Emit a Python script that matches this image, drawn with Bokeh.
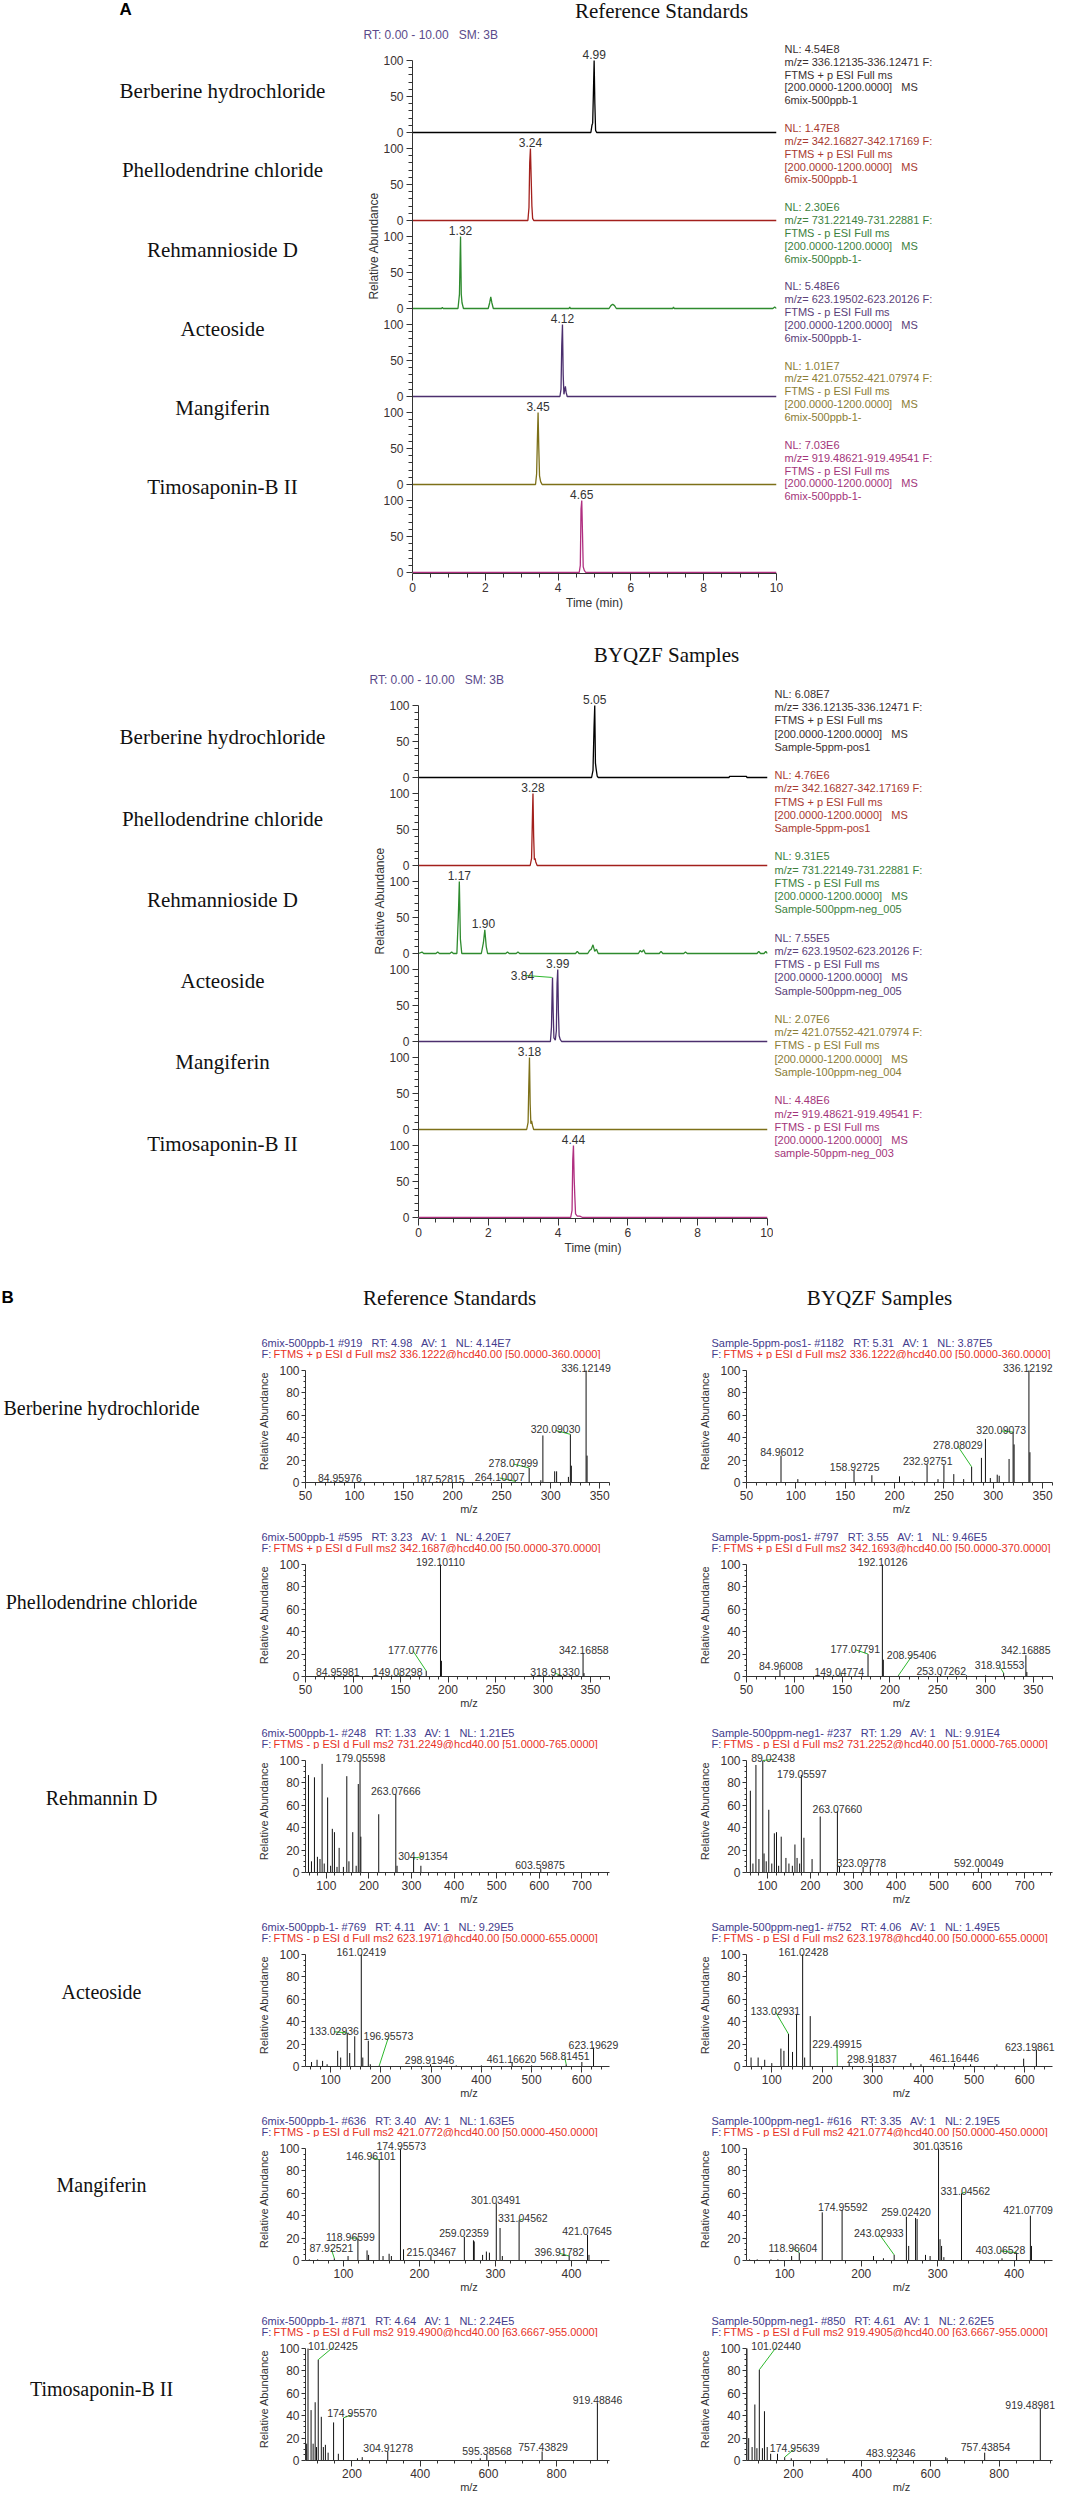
import math
from bokeh.plotting import figure
from bokeh.models import Range1d, FixedTicker, Label
from bokeh.layouts import column, row
from bokeh.embed import file_html
from bokeh.resources import INLINE

SERIF = "Liberation Serif"
SANS = "Liberation Sans"
NB = "\u00a0"

# ------------------------------------------------------------------ Panel A data
A_NAMES = ["Berberine hydrochloride", "Phellodendrine chloride", "Rehmannioside D",
           "Acteoside", "Mangiferin", "Timosaponin-B II"]
A_MZ_WINDOWS = ["336.12135-336.12471", "342.16827-342.17169", "731.22149-731.22881",
                "623.19502-623.20126", "421.07552-421.07974", "919.48621-919.49541"]
A_POLARITY = ["+", "+", "-", "-", "-", "-"]
A_REF_NL = ["4.54E8", "1.47E8", "2.30E6", "5.48E6", "1.01E7", "7.03E6"]
A_SMP_NL = ["6.08E7", "4.76E6", "9.31E5", "7.55E5", "2.07E6", "4.48E6"]
A_REF_FILE = ["6mix-500ppb-1", "6mix-500ppb-1", "6mix-500ppb-1-", "6mix-500ppb-1-",
              "6mix-500ppb-1-", "6mix-500ppb-1-"]
A_SMP_FILE = ["Sample-5ppm-pos1", "Sample-5ppm-pos1", "Sample-500ppm-neg_005",
              "Sample-500ppm-neg_005", "Sample-100ppm-neg_004", "sample-50ppm-neg_003"]

A_REF_BERB_T = [0, 4.90, 4.93, 4.95, 4.97, 4.99, 5.01, 5.03, 5.06, 10]
A_REF_BERB_V = [0, 0, 10, 13, 55, 100, 40, 3, 0, 0]
A_REF_PHEL_T = [0, 3.17, 3.20, 3.22, 3.24, 3.26, 3.28, 3.30, 3.33, 10]
A_REF_PHEL_V = [0, 0, 18, 80, 100, 60, 20, 3, 0, 0]
A_REF_REHM_T = [0, 0.80, 0.82, 0.84, 1.25, 1.29, 1.31, 1.32, 1.34, 1.36, 1.40,
                2.08, 2.12, 2.15, 2.18, 2.22, 4.30, 4.32, 4.34, 5.40, 5.45, 5.50, 5.55, 5.60,
                7.15, 7.17, 7.19, 9.90, 9.95, 10]
A_REF_REHM_V = [0, 0, 1.5, 0, 0, 20, 75, 100, 20, 8, 0,
                0, 8, 16, 8, 0, 0, 2, 0, 0, 4, 6, 4, 0,
                0, 2, 0, 0, 2, 0]
A_REF_ACTE_T = [0, 4.05, 4.08, 4.10, 4.12, 4.14, 4.16, 4.18, 4.20, 4.22, 4.25, 10]
A_REF_ACTE_V = [0, 0, 10, 70, 100, 30, 3, 9, 14, 6, 0, 0]
A_REF_MANG_T = [0, 3.38, 3.41, 3.43, 3.45, 3.47, 3.49, 3.52, 3.56, 10]
A_REF_MANG_V = [0, 0, 15, 60, 100, 50, 12, 4, 0, 0]
A_REF_TIMO_T = [0, 4.58, 4.61, 4.63, 4.65, 4.67, 4.69, 4.72, 4.76, 10]
A_REF_TIMO_V = [0, 0, 10, 88, 100, 55, 8, 3, 0, 0]

A_SMP_BERB_T = [0, 4.96, 5.00, 5.03, 5.05, 5.07, 5.09, 5.12, 5.15, 8.90, 8.91, 9.40, 9.41, 10]
A_SMP_BERB_V = [0, 0, 10, 70, 100, 20, 12, 2, 0, 0, 1.5, 1.5, 0, 0]
A_SMP_PHEL_T = [0, 3.20, 3.24, 3.27, 3.28, 3.30, 3.32, 3.34, 3.36, 3.40, 10]
A_SMP_PHEL_V = [0, 0, 10, 80, 100, 40, 8, 10, 5, 0, 0]
A_SMP_REHM_T = [0, 0.10, 0.15, 0.20, 0.50, 0.55, 0.60, 0.90, 0.95, 1.00,
                1.10, 1.14, 1.17, 1.20, 1.24, 1.80, 1.86, 1.90, 1.94, 1.98,
                2.50, 2.55, 2.60, 2.80, 2.85, 2.90, 4.50, 4.55, 4.60,
                4.85, 4.90, 4.95, 5.00, 5.05, 5.10, 5.15, 6.30, 6.35, 6.40, 6.45, 6.50,
                6.90, 6.95, 7.00, 7.60, 7.65, 7.70, 9.70, 9.75, 9.80, 9.90, 9.95, 10]
A_SMP_REHM_V = [0, 2, 0, 0, 0, 2, 0, 0, 2, 0,
                0, 50, 100, 20, 0, 0, 15, 33, 10, 0,
                0, 2, 0, 0, 2, 0, 0, 3, 0,
                0, 4, 6, 12, 3, 6, 0, 0, 4, 2, 5, 0,
                0, 3, 0, 0, 2, 0, 0, 3, 0, 0, 3, 0]
A_SMP_ACTE_T = [0, 3.78, 3.81, 3.83, 3.84, 3.86, 3.88, 3.92, 3.95, 3.97, 3.99, 4.01, 4.03, 4.06, 4.10, 10]
A_SMP_ACTE_V = [0, 0, 20, 70, 89, 40, 5, 2, 15, 80, 100, 40, 8, 3, 0, 0]
A_SMP_MANG_T = [0, 3.10, 3.14, 3.16, 3.18, 3.20, 3.22, 3.24, 3.27, 3.30, 10]
A_SMP_MANG_V = [0, 0, 10, 60, 100, 35, 8, 12, 5, 0, 0]
A_SMP_TIMO_T = [0, 4.36, 4.40, 4.42, 4.44, 4.46, 4.48, 4.50, 4.55, 4.62, 4.66, 4.70, 10]
A_SMP_TIMO_V = [0, 0, 10, 80, 100, 55, 28, 5, 2, 2, 1, 0, 0]

# retention-time labels: value, row, label x (min), label level (%)
A_REF_LAB_RT = [4.99, 3.24, 1.32, 4.12, 3.45, 4.65]
A_REF_LAB_ROW = [0, 1, 2, 3, 4, 5]
A_REF_LAB_T = [4.99, 3.24, 1.32, 4.12, 3.45, 4.65]
A_REF_LAB_V = [100, 100, 100, 100, 100, 100]
A_SMP_LAB_RT = [5.05, 3.28, 1.17, 1.90, 3.84, 3.99, 3.18, 4.44]
A_SMP_LAB_ROW = [0, 1, 2, 2, 3, 3, 4, 5]
A_SMP_LAB_T = [5.05, 3.28, 1.17, 1.86, 2.98, 3.99, 3.18, 4.44]
A_SMP_LAB_V = [100, 100, 100, 33, 83, 100, 100, 100]
A_SMP_LAB_LEADER = [0, 0, 0, 0, 1, 0, 0, 0]

TRACE_COLORS = ["#000000", "#a3201c", "#2e8b2e", "#4b2f6e", "#7d7018", "#b02f80"]
NL_COLORS = ["#3b2f2f", "#a83a30", "#3d7f3d", "#5a4078", "#8b7d35", "#a3357a"]

# ------------------------------------------------------------------ Panel B data
B_NAMES = ["Berberine hydrochloride", "Phellodendrine chloride", "Rehmannin D",
           "Acteoside", "Mangiferin", "Timosaponin-B II"]
B_REF_HEAD1 = ["6mix-500ppb-1 #919  RT: 4.98  AV: 1  NL: 4.14E7",
               "6mix-500ppb-1 #595  RT: 3.23  AV: 1  NL: 4.20E7",
               "6mix-500ppb-1- #248  RT: 1.33  AV: 1  NL: 1.21E5",
               "6mix-500ppb-1- #769  RT: 4.11  AV: 1  NL: 9.29E5",
               "6mix-500ppb-1- #636  RT: 3.40  AV: 1  NL: 1.63E5",
               "6mix-500ppb-1- #871  RT: 4.64  AV: 1  NL: 2.24E5"]
B_REF_HEAD2 = ["FTMS + p ESI d Full ms2 336.1222@hcd40.00 [50.0000-360.0000]",
               "FTMS + p ESI d Full ms2 342.1687@hcd40.00 [50.0000-370.0000]",
               "FTMS - p ESI d Full ms2 731.2249@hcd40.00 [51.0000-765.0000]",
               "FTMS - p ESI d Full ms2 623.1971@hcd40.00 [50.0000-655.0000]",
               "FTMS - p ESI d Full ms2 421.0772@hcd40.00 [50.0000-450.0000]",
               "FTMS - p ESI d Full ms2 919.4900@hcd40.00 [63.6667-955.0000]"]
B_SMP_HEAD1 = ["Sample-5ppm-pos1- #1182  RT: 5.31  AV: 1  NL: 3.87E5",
               "Sample-5ppm-pos1- #797  RT: 3.55  AV: 1  NL: 9.46E5",
               "Sample-500ppm-neg1- #237  RT: 1.29  AV: 1  NL: 9.91E4",
               "Sample-500ppm-neg1- #752  RT: 4.06  AV: 1  NL: 1.49E5",
               "Sample-100ppm-neg1- #616  RT: 3.35  AV: 1  NL: 2.19E5",
               "Sample-50ppm-neg1- #850  RT: 4.61  AV: 1  NL: 2.62E5"]
B_SMP_HEAD2 = ["FTMS + p ESI d Full ms2 336.1222@hcd40.00 [50.0000-360.0000]",
               "FTMS + p ESI d Full ms2 342.1693@hcd40.00 [50.0000-370.0000]",
               "FTMS - p ESI d Full ms2 731.2252@hcd40.00 [51.0000-765.0000]",
               "FTMS - p ESI d Full ms2 623.1978@hcd40.00 [50.0000-655.0000]",
               "FTMS - p ESI d Full ms2 421.0774@hcd40.00 [50.0000-450.0000]",
               "FTMS - p ESI d Full ms2 919.4905@hcd40.00 [63.6667-955.0000]"]
B_XRANGE = [(50, 360), (50, 370), (51, 765), (50, 655), (50, 450), (63.6667, 955)]
B_MAJOR = [[50, 100, 150, 200, 250, 300, 350], [50, 100, 150, 200, 250, 300, 350],
           [100, 200, 300, 400, 500, 600, 700], [100, 200, 300, 400, 500, 600],
           [100, 200, 300, 400], [200, 400, 600, 800]]
B_MINOR_STEP = [10, 10, 20, 20, 20, 50]

B1_REF_MZ = [84.96, 187.53, 264.10, 278.08, 290.0, 292.07, 304.1, 306.08, 318.1, 320.09, 321.1, 336.12, 337.13]
B1_REF_INT = [1, 0.6, 1, 13, 2, 42, 10, 10, 5, 43, 15, 100, 24]
B1_REF_LAB = ["336.12149", "320.09030", "278.07999", "264.10007", "187.52815", "84.95976"]
B1_REF_LX = [336, 305, 262, 248, 187, 85]
B1_REF_LY = [102, 47.5, 17.5, 5, 3.5, 4]
B1_REF_LEAD = [0, 1, 1, 1, 0, 0]
B1_SMP_MZ = [84.96, 102.0, 130.0, 158.93, 177.0, 205.0, 218.0, 232.93, 244.0, 250.0, 260.0, 270.0,
             278.08, 288.0, 292.07, 297.0, 304.0, 306.0, 316.0, 320.09, 321.1, 336.12, 337.13]
B1_SMP_INT = [24, 3, 1, 10.5, 6.5, 5.5, 1, 16, 3, 15.5, 7.5, 3, 14, 22, 39, 4, 7, 6, 21, 45, 34, 100, 27]
B1_SMP_LAB = ["336.12192", "320.09073", "278.08029", "232.92751", "158.92725", "84.96012"]
B1_SMP_LX = [335, 308, 264, 233.6, 159.6, 86]
B1_SMP_LY = [102, 47, 33.5, 19, 14, 27]
B1_SMP_LEAD = [0, 1, 1, 0, 0, 0]

B2_REF_MZ = [84.96, 149.08, 177.08, 192.10, 193.1, 318.91, 342.17, 343.17]
B2_REF_INT = [1, 1, 5, 100, 14, 1, 21, 3]
B2_REF_LAB = ["192.10110", "177.07776", "149.08298", "84.95981", "318.91330", "342.16858"]
B2_REF_LX = [192, 163, 147, 84, 312.6, 343]
B2_REF_LY = [102, 24, 4, 4, 4, 24]
B2_REF_LEAD = [0, 1, 1, 0, 1, 0]
B2_SMP_MZ = [84.96, 149.05, 177.08, 192.10, 193.1, 208.95, 253.07, 280.0, 300.0, 318.92, 342.17, 343.17]
B2_SMP_INT = [6, 2, 20, 100, 15, 1, 2, 1, 1, 3, 19, 4]
B2_SMP_LAB = ["192.10126", "177.07791", "208.95406", "84.96008", "149.04774", "253.07262",
              "318.91553", "342.16885"]
B2_SMP_LX = [192.4, 163.7, 222.7, 86, 147, 253.6, 314.7, 342]
B2_SMP_LY = [102, 25, 19, 9, 4, 5, 10, 24]
B2_SMP_LEAD = [0, 1, 1, 0, 1, 0, 1, 0]

B3_REF_MZ = [58, 65, 72, 79, 85, 90, 95, 103, 110, 114, 119, 125, 130, 140, 148, 153, 162, 170, 175,
             179.06, 181, 223, 263.08, 266, 304.91, 322, 603.6]
B3_REF_INT = [87, 10, 85, 14, 12, 97, 8, 67, 6, 39, 36, 5, 22, 5, 86, 10, 36, 6, 79,
              100, 32, 52, 70, 6, 13, 6, 3.5]
B3_REF_LAB = ["179.05598", "263.07666", "304.91354", "603.59875"]
B3_REF_LX = [180, 263, 327, 602]
B3_REF_LY = [102, 73, 15, 7]
B3_REF_LEAD = [0, 0, 1, 0]
B3_SMP_MZ = [60, 66, 73, 80, 89.02, 92, 97, 103, 110, 116, 121, 126, 132, 143, 150, 158, 164, 169, 175,
             179.06, 185, 204, 223, 263.08, 268, 323.10, 340, 592.0]
B3_SMP_INT = [73, 8, 96, 12, 100, 17, 10, 56, 8, 35, 36, 6, 32, 13, 8, 6, 25, 13, 8,
              87, 31, 12, 50, 55, 5, 5, 6, 4]
B3_SMP_LAB = ["89.02438", "179.05597", "263.07660", "323.09778", "592.00049"]
B3_SMP_LX = [113, 180, 263, 319, 593]
B3_SMP_LY = [102, 88, 57, 8.5, 8.5]
B3_SMP_LEAD = [1, 0, 0, 0, 0]

B4_REF_MZ = [62, 73, 84, 93, 114, 120, 133.03, 138, 148, 161.02, 164, 175, 179, 196.96, 298.92,
             350, 400, 461.17, 500, 568.81, 600, 623.20]
B4_REF_INT = [4, 6, 5, 2, 14, 8, 30, 12, 27, 100, 8, 23, 2, 1, 2, 1, 1, 4, 1, 2, 4, 17]
B4_REF_LAB = ["161.02419", "133.02936", "196.95573", "298.91946", "461.16620", "568.81451", "623.19629"]
B4_REF_LX = [161, 107, 215, 297, 460, 566, 623]
B4_REF_LY = [102, 32, 27, 6, 7, 9, 19]
B4_REF_LEAD = [0, 1, 1, 0, 0, 1, 0]
B4_SMP_MZ = [59, 73, 86, 100, 118, 124, 133.03, 141, 149, 161.02, 165, 176, 229.50, 253, 298.92,
             375, 395, 461.16, 493, 545, 598, 623.20]
B4_SMP_INT = [8, 8, 6, 3, 16, 14, 29, 13, 47, 100, 8, 45, 1, 3, 3, 3, 2, 3, 2, 2, 7, 15]
B4_SMP_LAB = ["161.02428", "133.02931", "229.49915", "298.91837", "461.16446", "623.19861"]
B4_SMP_LX = [162.5, 107, 229, 298, 461, 610]
B4_SMP_LY = [102, 50, 20, 7, 7.5, 17]
B4_SMP_LEAD = [0, 1, 1, 0, 0, 0]

B5_REF_MZ = [55, 66, 87.93, 106, 118.97, 131, 133, 146.96, 152, 160, 163, 174.96, 179, 215.03,
             259.02, 271, 272, 283, 288, 292, 301.03, 306, 309, 331.05, 396.92, 421.08, 423]
B5_REF_INT = [1, 1, 2, 4, 20, 9, 5, 90, 4, 6, 4, 100, 10, 4,
              21, 18, 17, 5, 8, 7, 51, 29, 4, 36, 4, 23, 5]
B5_REF_LAB = ["174.95573", "146.96101", "301.03491", "331.04562", "421.07645", "259.02359",
              "118.96599", "87.92521", "215.03467", "396.91782"]
B5_REF_LX = [176, 136, 300.5, 336, 420.5, 258.5, 109, 84, 215.5, 384]
B5_REF_LY = [102, 93, 54, 38, 26, 25, 21, 11, 7.5, 7.5]
B5_REF_LEAD = [0, 1, 0, 1, 0, 0, 1, 1, 0, 1]
B5_SMP_MZ = [54, 64, 82, 91, 109, 118.97, 149, 174.96, 216, 229, 243.03, 259.02, 262, 271, 273,
             284, 290, 301.04, 303, 305, 308, 331.05, 384, 403.07, 421.08, 422.5]
B5_SMP_INT = [1, 1, 1, 1, 4, 7, 43, 45, 4, 2, 5, 39, 13, 38, 37,
              5, 4, 100, 19, 13, 3, 60, 2, 7, 40, 13]
B5_SMP_LAB = ["301.03516", "331.04562", "174.95592", "259.02420", "421.07709", "243.02933",
              "118.96604", "403.06528"]
B5_SMP_LX = [300, 336, 176, 258.5, 418, 223, 110.7, 382]
B5_SMP_LY = [102, 62, 48, 43, 45, 25, 11.5, 9.5]
B5_SMP_LEAD = [0, 1, 0, 0, 0, 1, 1, 1]

B6_REF_MZ = [67, 71, 80, 86, 92, 96, 101.02, 110, 116, 122, 130, 146, 160, 174.96, 216, 230,
             304.91, 576, 595.39, 757.44, 919.49]
B6_REF_INT = [15, 100, 45, 15, 52, 12, 90, 39, 12, 14, 7, 34, 6, 38, 2, 3, 8, 2, 5, 8, 51]
B6_REF_LAB = ["101.02425", "174.95570", "304.91278", "595.38568", "757.43829", "919.48846"]
B6_REF_LX = [144, 200, 306, 596, 760, 920]
B6_REF_LY = [102, 42, 11.5, 8.5, 12, 54]
B6_REF_LEAD = [1, 1, 0, 0, 0, 0]
B6_SMP_MZ = [65, 70, 80, 88, 94, 101.02, 110, 116, 124, 134, 154, 174.96, 194, 298, 483.92, 504,
             644, 648, 757.44, 919.49]
B6_SMP_INT = [100, 20, 12, 50, 11, 81, 11, 44, 12, 6, 6, 3, 2, 2, 2, 2, 3, 2, 7, 46]
B6_SMP_LAB = ["101.02440", "174.95639", "483.92346", "757.43854", "919.48981"]
B6_SMP_LX = [150, 204, 484, 760, 890]
B6_SMP_LY = [102, 11.5, 7, 12, 50]
B6_SMP_LEAD = [1, 1, 0, 0, 0]


# ------------------------------------------------------------------ helpers
def spaced(s):
    return s.replace("  ", NB + NB + " ")


def base_fig(width, height, xr, yr, **kw):
    p = figure(width=width, height=height, x_range=Range1d(*xr), y_range=Range1d(*yr),
               output_backend="svg", toolbar_location=None, tools="", title=None, **kw)
    p.outline_line_color = None
    p.background_fill_color = "white"
    p.border_fill_color = "white"
    return p


def text_fig(cl, cr, ct, cb):
    """Blank figure whose frame is the whole canvas; data units are page pixels."""
    return base_fig(cr - cl, cb - ct, (cl, cr), (cb, ct), x_axis_type=None, y_axis_type=None,
                    min_border=0)


def make_fig(cl, cr, ct, cb, fl, fr, ft, fb, xr, yr):
    p = base_fig(cr - cl, cb - ct, xr, yr,
                 min_border_left=fl - cl, min_border_right=cr - fr,
                 min_border_top=ft - ct, min_border_bottom=cb - fb)
    p.xgrid.visible = False
    p.ygrid.visible = False
    return p


def add_text(p, x, y, text, size, color="#333333", font=SANS, align="left",
             baseline="middle", angle=0.0, style="normal", x_offset=0):
    p.add_layout(Label(x=x, y=y, text=text, text_font=font, text_font_size=f"{size}px",
                       text_color=color, text_align=align, text_baseline=baseline,
                       angle=angle, text_font_style=style, x_offset=x_offset))


def style_axis(ax, size, tick_out, minor_out, standoff):
    ax.axis_line_color = "#333333"
    ax.major_tick_line_color = "#333333"
    ax.minor_tick_line_color = "#333333"
    ax.major_tick_out = tick_out
    ax.major_tick_in = 0
    ax.minor_tick_out = minor_out
    ax.minor_tick_in = 0
    ax.major_label_text_font = SANS
    ax.major_label_text_font_size = f"{size}px"
    ax.major_label_text_color = "#3a3030"
    ax.major_label_standoff = standoff


def style_axis_label(ax, text, font, size, standoff):
    ax.axis_label = text
    ax.axis_label_text_font = font
    ax.axis_label_text_font_size = f"{size}px"
    ax.axis_label_text_font_style = "normal"
    ax.axis_label_text_color = "#333333"
    ax.axis_label_standoff = standoff


ROW_STEP, ROW_H = 88, 72


def chrom_block(band_t, band_split, band_b, frame_l, frame_r, right_edge, rows_top, traces,
                lab_rt, lab_row, lab_t, lab_v, lab_lead, nl_vals, files, title, title_xy,
                rt_xy, relab_xy, nl_x, name_x, letter_xy=None):
    hdr = text_fig(8, 1064, band_t, band_split)
    add_text(hdr, title_xy[0], title_xy[1], title, 21, "#111111", SERIF, "center")
    add_text(hdr, rt_xy[0], rt_xy[1], spaced("RT: 0.00 - 10.00  SM: 3B"), 12, "#5a4a8a", SANS, "left")
    if letter_xy:
        add_text(hdr, letter_xy[0], letter_xy[1], "A", 17, "#000000", SANS, "left", style="bold")

    span = 5 * ROW_STEP + ROW_H
    base6 = rows_top + span
    axis_w = 32
    left = text_fig(8, frame_l - axis_w, band_split, band_b)
    right = text_fig(right_edge, 1064, band_split, band_b)
    p = make_fig(frame_l - axis_w, right_edge, band_split, band_b, frame_l, frame_r,
                 band_split, base6 + 1, (0, 10), (-1, base6 - band_split))
    k = ROW_H / 100.0
    for i, (T, V) in enumerate(traces):
        base = (5 - i) * ROW_STEP
        p.line(T, [base + v * k for v in V], line_color=TRACE_COLORS[i], line_width=1.3)
        top_page = rows_top + i * ROW_STEP
        add_text(left, name_x, top_page + ROW_H / 2, A_NAMES[i], 21, "#111111", SERIF, "center")
        lines = [f"NL: {nl_vals[i]}", f"m/z= {A_MZ_WINDOWS[i]} F:",
                 f"FTMS {A_POLARITY[i]} p ESI Full ms", spaced("[200.0000-1200.0000]  MS"), files[i]]
        for j, ln in enumerate(lines):
            add_text(right, nl_x, top_page - 11 + 14.3 * j, ln, 11, NL_COLORS[i], SANS, "left")
    for j, rt in enumerate(lab_rt):
        r = lab_row[j]
        base = (5 - r) * ROW_STEP
        add_text(p, lab_t[j], base + lab_v[j] * k + 6, f"{rt:.2f}", 12, "#333333", SANS,
                 "center", "alphabetic")
        if lab_lead[j]:
            T, V = traces[r]
            pv = max(v for t, v in zip(T, V) if abs(t - rt) < 0.015)
            p.segment(x0=[lab_t[j] + 0.07], y0=[base + pv * k + 2], x1=[rt - 0.02],
                      y1=[base + pv * k], line_color="#2db82d", line_width=1)
    add_text(left, relab_xy[0], relab_xy[1], "Relative Abundance", 12, "#333333", SANS,
             "center", angle=math.pi / 2)

    yax = p.yaxis[0]
    style_axis(yax, 12, 6, 4, 3)
    majors, minors, over = [], [], {}
    for i in range(6):
        base = (5 - i) * ROW_STEP
        for off, lab in ((0, "0"), (36, "50"), (72, "100")):
            majors.append(base + off)
            over[base + off] = lab
        minors += [base + 7.2 * m for m in range(1, 10) if m != 5]
    yax.ticker = FixedTicker(ticks=majors, minor_ticks=minors)
    yax.major_label_overrides = over
    yax.bounds = (0, span)
    xax = p.xaxis[0]
    style_axis(xax, 12, 7, 4, 2)
    xax.ticker = FixedTicker(ticks=[0, 2, 4, 6, 8, 10],
                             minor_ticks=[0.5 * m for m in range(21) if m % 4])
    xax.bounds = (0, 10)
    style_axis_label(xax, "Time (min)", SANS, 12, 1)
    return column(hdr, row(left, p, right, spacing=0), spacing=0)


def spec_plot(cl, cr, ct, cb, fl, fr, fr_ext, H, idx, mz, inten, labs, lx, ly, lead):
    xr = B_XRANGE[idx]
    xr_ext = (xr[0], xr[1] + (fr_ext - fr) * (xr[1] - xr[0]) / (fr - fl))
    frame_t, frame_b = ct, H + 140
    yr = (0, 100.0 * (frame_b - frame_t) / 112.0)
    p = make_fig(cl, cr, ct, cb, fl, fr_ext, frame_t, frame_b, xr_ext, yr)
    p.segment(x0=mz, y0=[0] * len(mz), x1=mz, y1=inten, line_color="#111111", line_width=1)
    for j, t in enumerate(labs):
        if lead[j]:
            pm = float(t)
            n = min(range(len(mz)), key=lambda q: abs(mz[q] - pm))
            p.segment(x0=[lx[j]], y0=[ly[j] - 1], x1=[mz[n]], y1=[inten[n]],
                      line_color="#2db82d", line_width=1)
        add_text(p, lx[j], ly[j], t, 10.5, "#333333", SANS, "center", "alphabetic")
    yax = p.yaxis[0]
    style_axis(yax, 12, 4, 2, 2)
    yax.ticker = FixedTicker(ticks=[0, 20, 40, 60, 80, 100],
                             minor_ticks=[5 * m for m in range(21) if m % 4])
    yax.bounds = (0, 100)
    style_axis_label(yax, "Relative Abundance", SANS, 11, 6)
    xax = p.xaxis[0]
    style_axis(xax, 12, 6, 3, 2)
    step = B_MINOR_STEP[idx]
    majors = B_MAJOR[idx]
    start = math.ceil(xr[0] / step) * step
    minors = [v for v in range(int(start), int(xr[1]) + 1, step) if v not in majors]
    xax.ticker = FixedTicker(ticks=majors, minor_ticks=minors)
    xax.bounds = xr
    style_axis_label(xax, "m/z", SANS, 11, 0)
    return p


# ------------------------------------------------------------------ panel A
ref_traces = [(A_REF_BERB_T, A_REF_BERB_V), (A_REF_PHEL_T, A_REF_PHEL_V),
              (A_REF_REHM_T, A_REF_REHM_V), (A_REF_ACTE_T, A_REF_ACTE_V),
              (A_REF_MANG_T, A_REF_MANG_V), (A_REF_TIMO_T, A_REF_TIMO_V)]
smp_traces = [(A_SMP_BERB_T, A_SMP_BERB_V), (A_SMP_PHEL_T, A_SMP_PHEL_V),
              (A_SMP_REHM_T, A_SMP_REHM_V), (A_SMP_ACTE_T, A_SMP_ACTE_V),
              (A_SMP_MANG_T, A_SMP_MANG_V), (A_SMP_TIMO_T, A_SMP_TIMO_V)]

blockA1 = chrom_block(8, 50, 640, 420, 784, 791, 68, ref_traces, A_REF_LAB_RT, A_REF_LAB_ROW,
                      A_REF_LAB_T, A_REF_LAB_V, [0] * 6, A_REF_NL, A_REF_FILE,
                      "Reference Standards", (669, 18), (371, 42), (381, 276), 792, 230,
                      letter_xy=(127, 17))
blockA2 = chrom_block(640, 695, 1270, 426, 775, 781, 713, smp_traces, A_SMP_LAB_RT, A_SMP_LAB_ROW,
                      A_SMP_LAB_T, A_SMP_LAB_V, A_SMP_LAB_LEADER, A_SMP_NL, A_SMP_FILE,
                      "BYQZF Samples", (674, 662), (377, 687), (387, 926), 782, 230)

# ------------------------------------------------------------------ panel B
B_H = [1350, 1544, 1740, 1934, 2128, 2328]
B_END = [1536, 1732, 1926, 2120, 2320, 2505]
ref_sets = [(B1_REF_MZ, B1_REF_INT, B1_REF_LAB, B1_REF_LX, B1_REF_LY, B1_REF_LEAD),
            (B2_REF_MZ, B2_REF_INT, B2_REF_LAB, B2_REF_LX, B2_REF_LY, B2_REF_LEAD),
            (B3_REF_MZ, B3_REF_INT, B3_REF_LAB, B3_REF_LX, B3_REF_LY, B3_REF_LEAD),
            (B4_REF_MZ, B4_REF_INT, B4_REF_LAB, B4_REF_LX, B4_REF_LY, B4_REF_LEAD),
            (B5_REF_MZ, B5_REF_INT, B5_REF_LAB, B5_REF_LX, B5_REF_LY, B5_REF_LEAD),
            (B6_REF_MZ, B6_REF_INT, B6_REF_LAB, B6_REF_LX, B6_REF_LY, B6_REF_LEAD)]
smp_sets = [(B1_SMP_MZ, B1_SMP_INT, B1_SMP_LAB, B1_SMP_LX, B1_SMP_LY, B1_SMP_LEAD),
            (B2_SMP_MZ, B2_SMP_INT, B2_SMP_LAB, B2_SMP_LX, B2_SMP_LY, B2_SMP_LEAD),
            (B3_SMP_MZ, B3_SMP_INT, B3_SMP_LAB, B3_SMP_LX, B3_SMP_LY, B3_SMP_LEAD),
            (B4_SMP_MZ, B4_SMP_INT, B4_SMP_LAB, B4_SMP_LX, B4_SMP_LY, B4_SMP_LEAD),
            (B5_SMP_MZ, B5_SMP_INT, B5_SMP_LAB, B5_SMP_LX, B5_SMP_LY, B5_SMP_LEAD),
            (B6_SMP_MZ, B6_SMP_INT, B6_SMP_LAB, B6_SMP_LX, B6_SMP_LY, B6_SMP_LEAD)]

b_title = text_fig(8, 1064, 1270, B_H[0] - 8)
add_text(b_title, 9, 1305, "B", 17, "#000000", SANS, "left", style="bold")
add_text(b_title, 457, 1305, "Reference Standards", 21, "#111111", SERIF, "center")
add_text(b_title, 887, 1305, "BYQZF Samples", 21, "#111111", SERIF, "center")

parts_B = [b_title]
for i in range(6):
    H = B_H[i]
    top, split, end = H - 8, H + 17, B_END[i]
    hdr = text_fig(8, 1064, top, split)
    for hx, h1, h2 in ((269, B_REF_HEAD1[i], B_REF_HEAD2[i]), (719, B_SMP_HEAD1[i], B_SMP_HEAD2[i])):
        add_text(hdr, hx, H, spaced(h1), 11, "#433b8c", SANS, "left")
        add_text(hdr, hx, H + 11.5, "F:", 11, "#433b8c", SANS, "left")
        add_text(hdr, hx, H + 11.5, h2, 11, "#e8321f", SANS, "left", x_offset=12)
    lab = text_fig(8, 262, split, end)
    add_text(lab, 109, H + 84, B_NAMES[i], 20, "#111111", SERIF, "center")
    pl = spec_plot(262, 690, split, end, 313, 617, 640, H, i, *ref_sets[i])
    pr = spec_plot(690, 1064, split, end, 754, 1060, 1064, H, i, *smp_sets[i])
    parts_B.append(hdr)
    parts_B.append(row(lab, pl, pr, spacing=0))

layout = column(blockA1, blockA2, *parts_B, spacing=0)
open("out.html", "w").write(file_html(layout, INLINE, "chart"))
